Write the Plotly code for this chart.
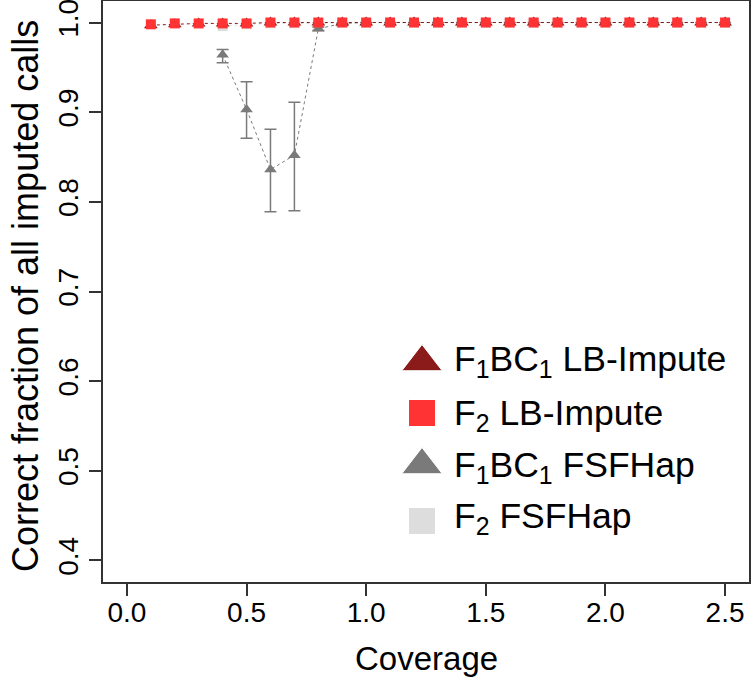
import plotly.graph_objects as go

# ---------------- data ----------------
coverage = [round(0.1 * i, 1) for i in range(1, 26)]

f1bc1_lb = [0.997, 0.998, 0.999, 0.999, 0.999, 1.0, 1.0, 1.0, 1.0, 1.0, 1.0, 1.0, 1.0,
            1.0, 1.0, 1.0, 1.0, 1.0, 1.0, 1.0, 1.0, 1.0, 1.0, 1.0, 1.0]
f2_lb = [0.998, 0.999, 0.999, 0.999, 0.999, 1.0, 1.0, 1.0, 1.0, 1.0, 1.0, 1.0, 1.0,
         1.0, 1.0, 1.0, 1.0, 1.0, 1.0, 1.0, 1.0, 1.0, 1.0, 1.0, 1.0]

fsf_cov = [round(0.1 * i, 1) for i in range(4, 26)]
f1bc1_fsf = [0.964, 0.903, 0.836, 0.852, 0.993, 0.999, 1.0, 1.0, 1.0, 1.0, 1.0,
             1.0, 1.0, 1.0, 1.0, 1.0, 1.0, 1.0, 1.0, 1.0, 1.0, 1.0]
f1bc1_fsf_hi = [0.970, 0.934, 0.881, 0.911, 0.995, 0.999, 1.0, 1.0, 1.0, 1.0, 1.0,
                1.0, 1.0, 1.0, 1.0, 1.0, 1.0, 1.0, 1.0, 1.0, 1.0, 1.0]
f1bc1_fsf_lo = [0.955, 0.871, 0.789, 0.790, 0.991, 0.998, 1.0, 1.0, 1.0, 1.0, 1.0,
                1.0, 1.0, 1.0, 1.0, 1.0, 1.0, 1.0, 1.0, 1.0, 1.0, 1.0]
f2_fsf = [0.996, 0.998, 0.999, 0.999, 0.999, 1.0, 1.0, 1.0, 1.0, 1.0, 1.0,
          1.0, 1.0, 1.0, 1.0, 1.0, 1.0, 1.0, 1.0, 1.0, 1.0, 1.0]

series_names = ["F<sub>1</sub>BC<sub>1</sub> LB-Impute", "F<sub>2</sub> LB-Impute",
                "F<sub>1</sub>BC<sub>1</sub> FSFHap", "F<sub>2</sub> FSFHap"]
x_ticks = [0.0, 0.5, 1.0, 1.5, 2.0, 2.5]
y_ticks = [0.4, 0.5, 0.6, 0.7, 0.8, 0.9, 1.0]
x_title = "Coverage"
y_title = "Correct fraction of all imputed calls"

# ---------------- styles ----------------
C_DARKRED = "#8B1A1A"
C_RED = "#FF3333"
C_GREY = "#7A7A7A"
C_LIGHT = "#DDDDDD"
FONT = "Liberation Sans, Arial, sans-serif"
AX = "#333333"

W, H = 752, 683
L, R, T, B = 103, 3, 1, 101

fig = go.Figure()

# F2 FSFHap (light grey squares)
fig.add_trace(go.Scatter(x=fsf_cov, y=f2_fsf, mode="lines+markers",
                         line=dict(color=C_LIGHT, width=1, dash="dot"),
                         marker=dict(symbol="square", size=10, color=C_LIGHT, opacity=1),
                         showlegend=False, cliponaxis=False))
# F1BC1 FSFHap (grey triangles with error bars)
fig.add_trace(go.Scatter(x=fsf_cov, y=f1bc1_fsf, mode="lines+markers",
                         line=dict(color=C_GREY, width=1, dash="dot"),
                         marker=dict(symbol="triangle-up", size=11, color=C_GREY, opacity=1),
                         error_y=dict(type="data", symmetric=False,
                                      array=[h - v for h, v in zip(f1bc1_fsf_hi, f1bc1_fsf)],
                                      arrayminus=[v - l for l, v in zip(f1bc1_fsf_lo, f1bc1_fsf)],
                                      color=C_GREY, thickness=1.5, width=6),
                         showlegend=False, cliponaxis=False))
# F1BC1 LB-Impute (dark red triangles)
fig.add_trace(go.Scatter(x=coverage, y=f1bc1_lb, mode="lines+markers",
                         line=dict(color=C_DARKRED, width=1, dash="dot"),
                         marker=dict(symbol="triangle-up", size=12, color=C_DARKRED, opacity=1),
                         showlegend=False, cliponaxis=False))
# F2 LB-Impute (red squares)
fig.add_trace(go.Scatter(x=coverage, y=f2_lb, mode="markers",
                         marker=dict(symbol="square", size=10, color=C_RED, opacity=1),
                         showlegend=False, cliponaxis=False))

# ---------------- manual legend (pixel-positioned) ----------------
def px_x(p):
    return (p - L) / (W - L - R)

def px_y(p):
    return 1 - (p - T) / (H - T - B)

leg_symbols = ["triangle-up", "square", "triangle-up", "square"]
leg_colors = [C_DARKRED, C_RED, C_GREY, C_LIGHT]
leg_sizes = [35, 27, 35, 27]
leg_rows = [362, 413, 465, 521]
leg_text_rows = [361, 415, 467, 518]

fig.add_trace(go.Scatter(x=[px_x(422)] * 4, y=[px_y(r) for r in leg_rows],
                         xaxis="x2", yaxis="y2", mode="markers",
                         marker=dict(symbol=leg_symbols, size=leg_sizes, color=leg_colors,
                                     opacity=1),
                         showlegend=False, hoverinfo="skip", cliponaxis=False))
for name, r in zip(series_names, leg_text_rows):
    fig.add_annotation(x=px_x(452), y=px_y(r), xref="paper", yref="paper",
                       text=name, showarrow=False, xanchor="left", yanchor="middle",
                       font=dict(family=FONT, size=35.5, color="black"))

# axis titles as annotations for exact placement
fig.add_annotation(x=px_x(426), y=px_y(658), xref="paper", yref="paper",
                   text=x_title, showarrow=False, xanchor="center", yanchor="middle",
                   font=dict(family=FONT, size=33, color="black"))
fig.add_annotation(x=px_x(25), y=px_y(296), xref="paper", yref="paper",
                   text=y_title, showarrow=False, xanchor="center", yanchor="middle",
                   textangle=-90, font=dict(family=FONT, size=36, color="black"))

axis_common = dict(showline=True, mirror=True, linecolor=AX, linewidth=1.5,
                   ticks="outside", ticklen=12, tickwidth=1.5, tickcolor=AX,
                   showgrid=False, zeroline=False, automargin=False,
                   ticklabeloverflow="allow",
                   tickfont=dict(family=FONT, size=28, color="black"))

fig.update_layout(
    width=W, height=H,
    margin=dict(l=L, r=R, t=T, b=B, pad=0, autoexpand=False),
    paper_bgcolor="white", plot_bgcolor="white",
    showlegend=False,
    xaxis=dict(range=[-0.1, 2.6], tickvals=x_ticks, ticktext=[f"{v:.1f}" for v in x_ticks],
               ticklabelstandoff=-7, **axis_common),
    yaxis=dict(range=[0.376, 1.024], tickvals=y_ticks, ticktext=[f"{v:.1f}" for v in y_ticks],
               tickangle=-90, **axis_common),
    xaxis2=dict(range=[0, 1], overlaying="x", visible=False, fixedrange=True),
    yaxis2=dict(range=[0, 1], overlaying="y", visible=False, fixedrange=True),
)

fig.write_html("out.html", config={"displayModeBar": False},
               post_script="document.body.style.margin='0';document.body.style.overflow='hidden';")
